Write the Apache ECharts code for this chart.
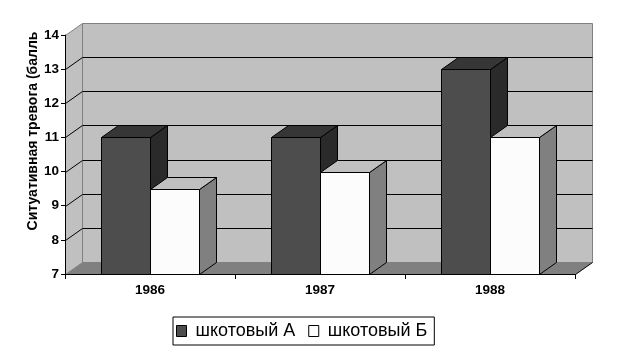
<!DOCTYPE html>
<html>
<head>
<meta charset="utf-8">
<script src="https://cdn.jsdelivr.net/npm/echarts@6/dist/echarts.min.js"></script>
<style>html,body{margin:0;padding:0;background:#fff}#c{width:626px;height:357px}</style>
</head>
<body>
<div id="c"></div>
<script>
const categories = ['1986', '1987', '1988'];
const seriesNames = ['шкотовый А', 'шкотовый Б'];
const valuesA = [11, 11, 13];
const valuesB = [9.5, 10, 11];
const yTicks = [7, 8, 9, 10, 11, 12, 13, 14];
const yAxisName = 'Ситуативная тревога (балль';

const DX = 17, DY = -12;
const FONT = '"Liberation Sans", Arial, sans-serif';

function r(v) { return Math.round(v) + 0.5; }

function wallRender(params, api) {
  const cs = params.coordSys;
  const x0 = r(cs.x), x1 = r(cs.x + cs.width);
  const yb = r(api.coord([0, yTicks[0]])[1]);
  const yt = r(api.coord([0, yTicks[yTicks.length - 1]])[1]);
  const ch = [];
  ch.push({ type: 'polygon', shape: { points: [[x0 + DX, yt + DY], [x1 + DX, yt + DY], [x1 + DX, yb + DY], [x0 + DX, yb + DY]] },
    style: { fill: '#c0c0c0', stroke: '#808080', lineWidth: 1 } });
  ch.push({ type: 'polygon', shape: { points: [[x0, yt], [x0 + DX, yt + DY], [x0 + DX, yb + DY], [x0, yb]] },
    style: { fill: '#c0c0c0', stroke: '#808080', lineWidth: 1 } });
  ch.push({ type: 'polygon', shape: { points: [[x0, yb], [x1, yb], [x1 + DX, yb + DY], [x0 + DX, yb + DY]] },
    style: { fill: '#808080', stroke: null } });
  ch.push({ type: 'line', shape: { x1: x1, y1: yb, x2: x1 + DX, y2: yb + DY }, style: { stroke: '#000', lineWidth: 1 } });
  for (let i = 1; i < yTicks.length - 1; i++) {
    const y = r(api.coord([0, yTicks[i]])[1]);
    ch.push({ type: 'line', shape: { x1: x0 + DX, y1: y + DY, x2: x1 + DX, y2: y + DY }, style: { stroke: '#000', lineWidth: 1 } });
    ch.push({ type: 'line', shape: { x1: x0, y1: y, x2: x0 + DX, y2: y + DY }, style: { stroke: '#000', lineWidth: 1 } });
  }
  return { type: 'group', children: ch };
}

function barRender(side, colors) {
  return function (params, api) {
    const c = api.coord([api.value(0), api.value(1)]);
    const base = api.coord([api.value(0), yTicks[0]]);
    const band = api.size([1, 0])[0];
    const bw = Math.round(band * 0.288);
    const cx = Math.round(c[0]);
    const xa = r(side === 0 ? cx - bw : cx);
    const xb = xa + bw;
    const yt = r(c[1]), yb = r(base[1]);
    const st = { stroke: '#000', lineWidth: 1 };
    return { type: 'group', children: [
      { type: 'polygon', shape: { points: [[xb, yt], [xb + DX, yt + DY], [xb + DX, yb + DY], [xb, yb]] }, style: Object.assign({ fill: colors[2] }, st) },
      { type: 'polygon', shape: { points: [[xa, yt], [xa + DX, yt + DY], [xb + DX, yt + DY], [xb, yt]] }, style: Object.assign({ fill: colors[1] }, st) },
      { type: 'rect', shape: { x: xa, y: yt, width: bw, height: yb - yt }, style: Object.assign({ fill: colors[0] }, st) }
    ] };
  };
}

const chart = echarts.init(document.getElementById('c'), null, { renderer: 'canvas' });
chart.setOption({
  animation: false,
  backgroundColor: '#fff',
  grid: { left: 65, right: 51, top: 35, bottom: 83 },
  xAxis: {
    type: 'category', data: categories,
    axisLine: { lineStyle: { color: '#000', width: 1 } },
    axisTick: { show: true, length: 5, lineStyle: { color: '#000' } },
    axisLabel: { color: '#000', fontFamily: FONT, fontWeight: 'bold', fontSize: 13.5, margin: 9 },
    splitLine: { show: false }, z: 10
  },
  yAxis: {
    type: 'value', min: 7, max: 14, interval: 1,
    axisLine: { show: true, lineStyle: { color: '#000', width: 1 } },
    axisTick: { show: true, length: 4, lineStyle: { color: '#000' } },
    axisLabel: { color: '#000', fontFamily: FONT, fontWeight: 'bold', fontSize: 13.5, margin: 6 },
    splitLine: { show: false }, z: 10
  },
  graphic: [{
    type: 'text', x: 33, y: 131, rotation: Math.PI / 2,
    style: { text: yAxisName, fill: '#000', font: 'bold 14px ' + FONT, align: 'center', verticalAlign: 'middle' }
  }],
  legend: {
    left: 173, top: 317, orient: 'horizontal',
    itemWidth: 10, itemHeight: 11, itemGap: 13,
    padding: [5, 7, 5, 3],
    borderColor: '#000', borderWidth: 1, backgroundColor: '#fff',
    textStyle: { color: '#000', fontFamily: FONT, fontSize: 18, padding: [0, 0, 0, 4] },
    data: [
      { name: seriesNames[0], icon: 'rect', itemStyle: { color: '#4d4d4d', borderColor: '#000', borderWidth: 1 } },
      { name: seriesNames[1], icon: 'rect', itemStyle: { color: '#fcfcfc', borderColor: '#000', borderWidth: 1 } }
    ]
  },
  series: [
    { type: 'custom', name: 'walls', z: 1, silent: true, data: [[0, 7]], renderItem: wallRender, clip: false },
    { type: 'custom', name: seriesNames[0], z: 2, data: valuesA.map((v, i) => [i, v]),
      itemStyle: { color: '#4d4d4d', borderColor: '#000', borderWidth: 1 },
      renderItem: barRender(0, ['#4d4d4d', '#363636', '#2a2a2a']), clip: false },
    { type: 'custom', name: seriesNames[1], z: 3, data: valuesB.map((v, i) => [i, v]),
      itemStyle: { color: '#fcfcfc', borderColor: '#000', borderWidth: 1 },
      renderItem: barRender(1, ['#fcfcfc', '#c0c0c0', '#808080']), clip: false }
  ]
});
</script>
</body>
</html>
